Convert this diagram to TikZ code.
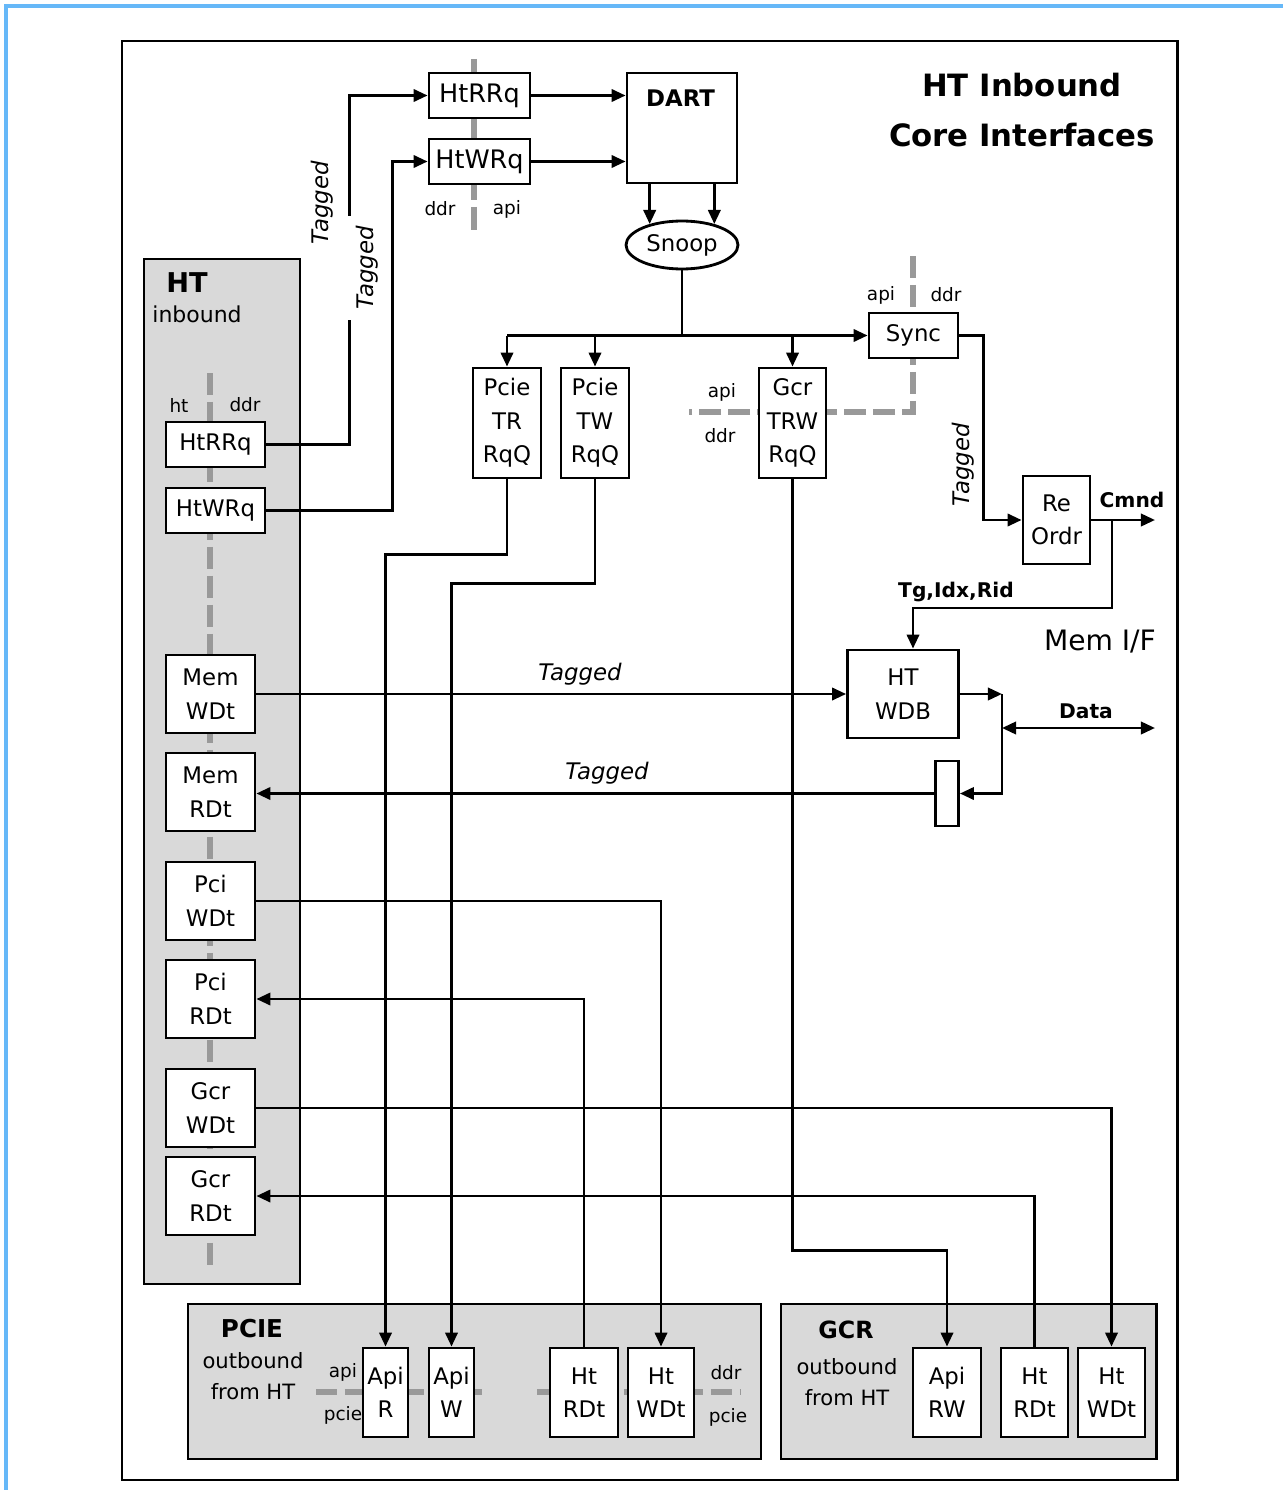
\documentclass[tikz,border=0pt]{standalone}
\usepackage{fontspec}
\setmainfont{DejaVu Sans}
\usetikzlibrary{arrows.meta,shapes.geometric,calc}

\definecolor{panelgray}{HTML}{D9D9D9}
\definecolor{sepgray}{HTML}{999999}
\definecolor{frameblue}{HTML}{66B8F8}

\begin{document}
\begin{tikzpicture}[x=0.02cm, y=-0.02cm, >={Triangle[length=8pt,width=7pt]},
  line width=1.6pt,
  blk/.style 2 args={draw, fill=white, inner sep=0pt, align=center,
    minimum width=#1*0.02cm, minimum height=#2*0.02cm,
    font=\fontsize{13}{19}\selectfont},
  panel/.style={draw, fill=panelgray},
  sepline/.style={draw=sepgray, line width=3.4pt, dash pattern=on 0.44cm off 0.14cm},
  lbl/.style={inner sep=0pt, font=\fontsize{10.5}{12}\selectfont},
  tagtxt/.style={inner sep=1pt, font=\fontsize{13}{15}\selectfont\itshape},
  boldlbl/.style={inner sep=0pt, font=\fontsize{11.5}{13}\selectfont\bfseries}]

\useasboundingbox (0,0) rectangle (1283,1490);

% Frame
\draw[frameblue, line width=1.8pt] (6,1490) -- (6,6) -- (1283,6);
\draw (122,41) rectangle (1177.5,1480);

% Panels
\draw[panel] (144,259) rectangle (300,1284);
\draw[panel] (188,1304) rectangle (761,1459);
\draw[panel] (781,1304) rectangle (1156.5,1459);

% Clock domain borders
\draw[sepline, dash pattern=on 2.82cm off 0.14cm] (474,59) -- (474,230);
\draw[sepline] (913,256) -- (913,412) -- (689,412);
\draw[sepline] (210,373) -- (210,1265);
\draw[sepline, dash pattern=on 0.42cm off 0.16cm] (316,1392) -- (488,1392);
\draw[sepline, dash pattern=on 0.42cm off 0.16cm] (537,1392) -- (741,1392);

% Title
\node[align=center, font=\fontsize{17.5}{28}\selectfont\bfseries] (title) at (1022,110) {HT Inbound\\Core Interfaces};

% HT inbound queues
\node[inner sep=0pt, font=\fontsize{15.5}{17}\selectfont\bfseries] (htlbl) at (187,283) {HT};
\node[inner sep=0pt, font=\fontsize{12.5}{14}\selectfont] (inblbl) at (197,314) {inbound};
\node[lbl] (htside) at (179,405) {ht};
\node[lbl] (ddrside) at (245,405) {ddr};
\node[blk={99}{45}] (htrrqI) at (215.5,444.5) {HtRRq};
\node[blk={99}{45}] (htwrqI) at (215.5,510.5) {HtWRq};
\node[blk={89}{78}] (memwdt) at (210.5,694) {Mem\\WDt};
\node[blk={89}{78}] (memrdt) at (210.5,792) {Mem\\RDt};
\node[blk={89}{78}] (pciwdt) at (210.5,901) {Pci\\WDt};
\node[blk={89}{78}] (pcirdt) at (210.5,999) {Pci\\RDt};
\node[blk={89}{78}] (gcrwdt) at (210.5,1108) {Gcr\\WDt};
\node[blk={89}{78}] (gcrrdt) at (210.5,1196) {Gcr\\RDt};

% Request queues and DART
\node[blk={101}{45}, font=\fontsize{14.5}{17}\selectfont] (htrrqT) at (479.5,95.5) {HtRRq};
\node[blk={101}{45}, font=\fontsize{14.5}{17}\selectfont] (htwrqT) at (479.5,161.5) {HtWRq};
\node[lbl] (ddrtop) at (440,209) {ddr};
\node[lbl] (apitop) at (507,209) {api};
\node[blk={110}{110}] (dart) at (682,128) {};
\node[inner sep=0pt, font=\fontsize{13}{15}\selectfont\bfseries] (dartlbl) at (680.5,98) {DART};
\node[draw, ellipse, fill=white, inner sep=0pt, minimum width=2.24cm, minimum height=0.96cm,
  font=\fontsize{13}{15}\selectfont] (snoop) at (682,245) {Snoop};
\node[blk={89}{45}] (sync) at (913.5,335.5) {Sync};
\node[lbl] (apisync) at (881,295) {api};
\node[lbl] (ddrsync) at (946,295) {ddr};
\node[blk={68}{110}] (pcietr) at (507,423) {Pcie\\TR\\RqQ};
\node[blk={68}{110}] (pcietw) at (595,423) {Pcie\\TW\\RqQ};
\node[blk={67}{110}] (gcrtrw) at (792.5,423) {Gcr\\TRW\\RqQ};
\node[lbl] (apigcr) at (722,392) {api};
\node[lbl] (ddrgcr) at (720,436) {ddr};

% Memory interface
\node[blk={67}{88}] (reordr) at (1056.5,520) {Re\\Ordr};
\node[blk={111}{88}] (htwdb) at (903,694) {HT\\WDB};
\node[blk={23}{65}] (rdbuf) at (947,793.5) {};
\node[inner sep=0pt, font=\fontsize{16}{18}\selectfont] (memif) at (1100,642) {Mem I/F};
\coordinate (cmndend) at (1155,520);
\coordinate (tap) at (1112,520);
\coordinate (dbus) at (1002,728);
\coordinate (dataend) at (1155,728);

% PCIE outbound
\node[inner sep=0pt, font=\fontsize{14}{16}\selectfont\bfseries] (pcielbl) at (252,1329) {PCIE};
\node[align=center, inner sep=0pt, font=\fontsize{12}{18}\selectfont] (pcieob) at (253,1376) {outbound\\from HT};
\node[lbl] (apipcie) at (343,1372) {api};
\node[lbl] (pciepcie) at (343,1415) {pcie};
\node[lbl] (ddrpcie) at (726,1373) {ddr};
\node[lbl] (pciepcie2) at (728,1417) {pcie};
\node[blk={45}{89}] (apiR) at (385.5,1392.5) {Api\\R};
\node[blk={45}{89}] (apiW) at (451.5,1392.5) {Api\\W};
\node[blk={68}{89}] (htrdtP) at (584,1392.5) {Ht\\RDt};
\node[blk={66}{89}] (htwdtP) at (661,1392.5) {Ht\\WDt};

% GCR outbound
\node[inner sep=0pt, font=\fontsize{13.5}{16}\selectfont\bfseries] (gcrlbl) at (846,1330) {GCR};
\node[align=center, inner sep=0pt, font=\fontsize{12}{18}\selectfont] (gcrob) at (847,1382) {outbound\\from HT};
\node[blk={68}{89}] (apirw) at (947,1392.5) {Api\\RW};
\node[blk={67}{89}] (htrdtG) at (1034.5,1392.5) {Ht\\RDt};
\node[blk={67}{89}] (htwdtG) at (1111.5,1392.5) {Ht\\WDt};

% Request path
\draw[->] (htrrqI.east) -- ++(83,0) |- (htrrqT.west);
\node[tagtxt, rotate=90] (tag1) at (322,203) {Tagged};
\node[tagtxt, rotate=90, fill=white, inner sep=6pt] (tag2) at (367,268) {Tagged};
\draw[->] (htwrqI.east) -- ++(126,0) |- (htwrqT.west);
\draw[->] (htrrqT.east) -- (htrrqT.east -| dart.west);
\draw[->] (htwrqT.east) -- (htwrqT.east -| dart.west);
\draw[->] (snoop.147 |- dart.south) -- (snoop.147);
\draw[->] (snoop.33 |- dart.south) -- (snoop.33);
\draw (snoop.south) -- (snoop.south |- sync.west);
\draw[->] (pcietr.north |- sync.west) -- (sync.west);
\draw[->] (pcietr.north |- sync.west) -- (pcietr.north);
\draw[->] (pcietw.north |- sync.west) -- (pcietw.north);
\draw[->] (gcrtrw.north |- sync.west) -- (gcrtrw.north);
\draw[->] (sync.east) -- ++(24,0) |- (reordr.west);
\node[tagtxt, rotate=90] (tag3) at (963,465) {Tagged};
\draw[->] (reordr.east) -- (cmndend);
\node[boldlbl] (cmndlbl) at (1132,500) {Cmnd};
\draw[->] (tap) -- ++(0,88) -| ([xshift=0.2cm]htwdb.north);
\node[boldlbl] (tglbl) at (956,592) {Tg,Idx,Rid};

% Data path
\draw[->] (memwdt.east) -- (memwdt.east -| htwdb.west);
\node[tagtxt] (tag4) at (580,674) {Tagged};
\draw[->] (htwdb.east) -- (htwdb.east -| dbus);
\draw[->] (htwdb.east -| dbus) -- (rdbuf.east -| dbus) -- (rdbuf.east);
\draw[<->] (dbus) -- (dataend);
\node[boldlbl] (datalbl) at (1086,711) {Data};
\draw[->] (rdbuf.west) -- (rdbuf.west -| memrdt.east);
\node[tagtxt] (tag5) at (607,773) {Tagged};

% Outbound requests
\draw[->] (pcietr.south) -- ++(0,75) -| (apiR.north);
\draw[->] (pcietw.south) -- ++(0,104) -| (apiW.north);
\draw[->] (gcrtrw.south) -- ++(0,771) -| (apirw.north);

% Outbound data
\draw[->] (pciwdt.east) -| (htwdtP.north);
\draw[->] (htrdtP.north) |- (pcirdt.east);
\draw[->] (gcrwdt.east) -| (htwdtG.north);
\draw[->] (htrdtG.north) |- (gcrrdt.east);

\end{tikzpicture}
\end{document}
